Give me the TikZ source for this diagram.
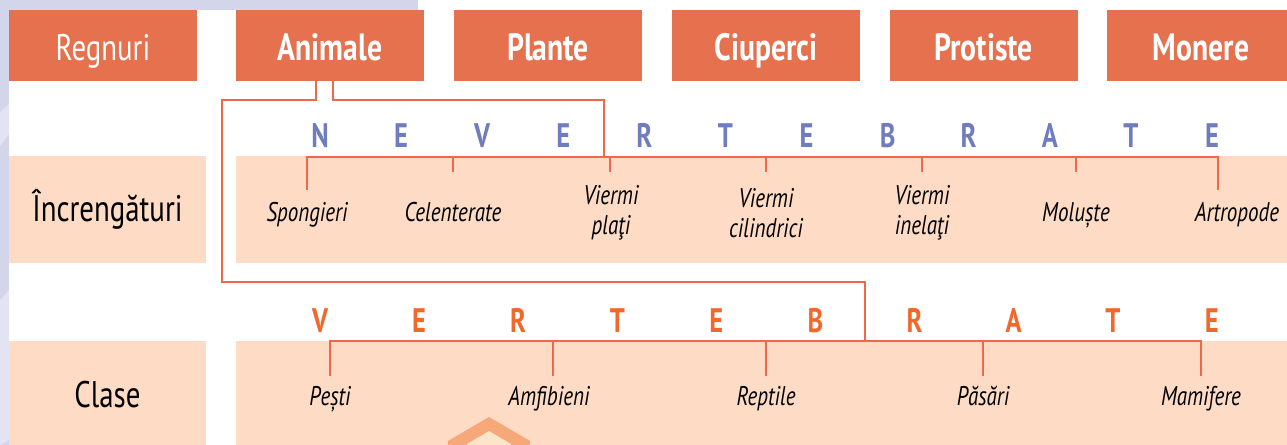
\documentclass[tikz,border=0pt]{standalone}
\usepackage{fontspec}
\setmainfont{PT Sans}[FakeStretch=0.78]
\usetikzlibrary{positioning,calc}
\definecolor{regbox}{RGB}{229,113,78}
\definecolor{linkred}{RGB}{240,104,74}
\definecolor{peach}{RGB}{253,219,197}
\definecolor{lavender}{RGB}{211,214,234}
\definecolor{lavlight}{RGB}{226,228,243}
\definecolor{nevblue}{RGB}{111,124,190}
\definecolor{vertorange}{RGB}{240,104,44}
\definecolor{salmon}{RGB}{247,168,120}
\definecolor{cream}{RGB}{253,229,202}

\begin{document}
\begin{tikzpicture}[x=0.5pt,y=-0.5pt,
  regn/.style={fill=regbox,text=white,minimum width=94pt,minimum height=35.5pt,
               inner sep=0pt,text height=17pt,text depth=2.5pt,
               font=\fontsize{19}{20}\selectfont\bfseries},
  rowlab/.style={fill=peach,minimum width=98.5pt,minimum height=53.5pt,
                 inner sep=0pt,font=\fontsize{18.5}{20}\selectfont},
  item/.style={font=\fontsize{13.5}{15}\selectfont\itshape,align=center,inner sep=0pt},
  nevlet/.style={font=\fontsize{17}{18}\selectfont\bfseries,text=nevblue,
                 anchor=base,inner sep=0pt},
  vertlet/.style={nevlet,text=vertorange},
  link/.style={draw=linkred,line width=1.3pt}]
  \useasboundingbox (0,0) rectangle (1287,445);
  % fundal
  \fill[lavender] (0,0) rectangle (418,10);
  \fill[lavender] (0,0) rectangle (9,445);
  \fill[lavlight] (0,112) -- (9,104) -- (9,134) -- (0,146) -- cycle;
  \fill[lavlight] (0,300) -- (9,290) -- (9,440) -- (0,445) -- cycle;
  \fill[peach] (236,156) rectangle (1287,263);
  \fill[peach] (236,341) rectangle (1287,445);
  \fill[salmon] (448,445) -- (448,441) -- (489,417) -- (530,441) -- (530,445) -- cycle;
  \fill[cream] (467,446) -- (467,444) -- (489,431) -- (511,444) -- (511,446) -- cycle;

  % regnuri
  \node[regn,font=\fontsize{18.5}{20}\selectfont] (reg) at (103,45.5) {Regnuri};
  \foreach \nm/\x/\txt in {anim/330/Animale, plan/548/Plante, ciup/766/Ciuperci,
                           prot/983.5/Protiste, mon/1201/Monere}
    \node[regn] (\nm) at (\x,45.5) {\txt};

  % randuri
  \node[rowlab] (incr) at (107.5,209.5) {Încrengături};
  \node[rowlab] (clase) at (107.5,394.5) {Clase};

  % litere
  \foreach \ch [count=\i] in {N,E,V,E,R,T,E,B,R,A,T,E}
    \node[nevlet] (nev\i) at ({320+(\i-1)*81.09},147) {\ch};
  \foreach \ch [count=\i] in {V,E,R,T,E,B,R,A,T,E}
    \node[vertlet] (vert\i) at ({320+(\i-1)*99.1},332) {\ch};

  % increngaturi
  \node[item,anchor=base] (spo) at (307,221) {Spongieri};
  \node[item,anchor=base] (cel) at (453,221) {Celenterate};
  \node[item] (plt) at (611,213) {Viermi\\plaţi};
  \node[item] (cil) at (766,213) {Viermi\\cilindrici};
  \node[item] (ine) at (922,213) {Viermi\\inelaţi};
  \node[item,anchor=base] (mol) at (1076,221) {Moluște};
  \node[item,anchor=base] (art) at (1237,221) {Artropode};

  % clase
  \foreach \nm/\x/\txt in {pes/330/Pești, amf/549/Amfibieni, rep/766/Reptile,
                           pas/983/Păsări, mam/1201/Mamifere}
    \node[item,anchor=base] (\nm) at (\x,405) {\txt};

  % legaturi
  \coordinate (nhub) at (604,157);
  \coordinate (nturn) at (604,100);
  \coordinate (vturnA) at (222,100);
  \coordinate (vturnB) at (222,282);
  \coordinate (vhub) at (865,341);
  \draw[link] ([xshift=1.5pt]anim.south) |- (nturn) -- (nhub);
  \draw[link] ([xshift=-7pt]anim.south) |- (vturnA) -- (vturnB) -| (vhub);

  \foreach \nm/\x/\lo in {spo/307/190, cel/453/172, plt/610/172, cil/766/172,
                          ine/922/172, mol/1076/172, art/1218/190}
    \coordinate (k-\nm) at (\x,\lo);
  \draw[link] (k-spo) |- (nhub) -| (k-art);
  \foreach \nm in {cel,plt,cil,ine,mol}
    \draw[link] (k-\nm |- nhub) -- (k-\nm);

  \foreach \nm/\x in {pes/330, amf/553, rep/766, pas/983, mam/1201}
    \coordinate (c-\nm) at (\x,376);
  \draw[link] (c-pes) |- (vhub) -| (c-mam);
  \foreach \nm in {amf,rep,pas}
    \draw[link] (c-\nm |- vhub) -- (c-\nm);
\end{tikzpicture}
\end{document}
